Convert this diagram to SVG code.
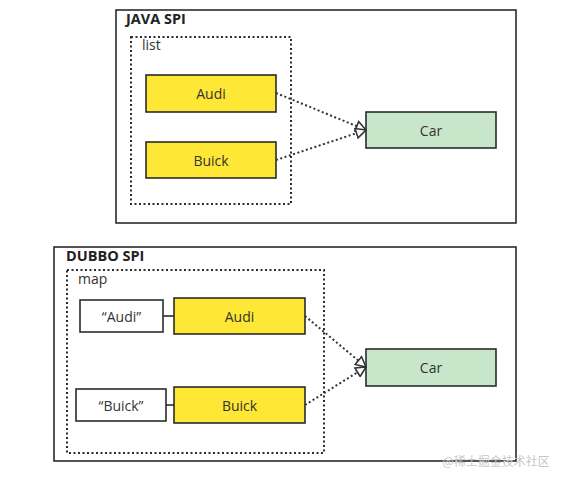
<svg xmlns="http://www.w3.org/2000/svg" width="564" height="482" viewBox="0 0 564 482">
<style>
.frame{fill:#fff;stroke:#2b2b2b;stroke-width:1.6}
.group{fill:none;stroke:#2b2b2b;stroke-width:2;stroke-dasharray:2 2.5}
.impl{fill:#ffe735;stroke:#2b2b2b;stroke-width:1.6}
.key{fill:#fff;stroke:#2b2b2b;stroke-width:1.6}
.iface{fill:#c8e6c9;stroke:#2b2b2b;stroke-width:1.6}
.t{font-family:"Open Sans","Noto Sans","Liberation Sans",sans-serif;font-size:14px;fill:#333;text-anchor:middle;dominant-baseline:central}
.title{font-family:"Open Sans","Noto Sans","Liberation Sans",sans-serif;font-size:14.5px;font-weight:bold;fill:#222}
.lab{font-family:"Open Sans","Noto Sans","Liberation Sans",sans-serif;font-size:14px;fill:#333}
.dep{fill:none;stroke:#333;stroke-width:2;stroke-dasharray:2 2.5;marker-end:url(#tri)}
.link{stroke:#2b2b2b;stroke-width:1.6}
</style>
<defs>
<marker id="tri" viewBox="0 0 12 12" refX="11" refY="6" markerWidth="12" markerHeight="12" markerUnits="userSpaceOnUse" orient="auto">
<path d="M1,1 L11,6 L1,11 Z" fill="#fff" stroke="#333" stroke-width="1.6" stroke-linejoin="miter"/>
</marker>
</defs>
<rect width="564" height="482" fill="#fff"/>

<g id="java-spi">
<rect class="frame" x="116" y="10" width="400" height="213"/>
<text class="title" x="126" y="24">JAVA SPI</text>
</g>
<g id="list">
<rect class="group" x="131" y="37" width="160" height="167"/>
<text class="lab" x="142" y="50">list</text>
</g>
<g id="java-audi">
<rect class="impl" x="146" y="75" width="130" height="37"/>
<text class="t" x="211" y="93.5">Audi</text>
</g>
<g id="java-buick">
<rect class="impl" x="146" y="142" width="130" height="36"/>
<text class="t" x="211" y="160">Buick</text>
</g>
<g id="java-car">
<rect class="iface" x="366" y="112" width="130" height="36"/>
<text class="t" x="431" y="130">Car</text>
</g>

<g id="dubbo-spi">
<rect class="frame" x="54" y="247" width="462" height="214"/>
<text class="title" x="66" y="261">DUBBO SPI</text>
</g>
<g id="map">
<rect class="group" x="67" y="270" width="257" height="183"/>
<text class="lab" x="78" y="284">map</text>
</g>
<g id="key-audi">
<rect class="key" x="80" y="300" width="83" height="32"/>
<text class="t" x="121.5" y="316">“Audi”</text>
</g>
<g id="dubbo-audi">
<rect class="impl" x="174" y="298" width="131" height="36"/>
<text class="t" x="239.5" y="316">Audi</text>
</g>
<g id="key-buick">
<rect class="key" x="76" y="389" width="90" height="32"/>
<text class="t" x="121" y="405">“Buick”</text>
</g>
<g id="dubbo-buick">
<rect class="impl" x="174" y="387" width="131" height="36"/>
<text class="t" x="239.5" y="405">Buick</text>
</g>
<g id="dubbo-car">
<rect class="iface" x="366" y="349" width="130" height="37"/>
<text class="t" x="431" y="367.5">Car</text>
</g>

<g id="connectors">
<path class="dep" d="M276,93 L366,130"/>
<path class="dep" d="M276,160 L366,130"/>
<path class="dep" d="M305,316 L366,367"/>
<path class="dep" d="M305,405 L366,367"/>
<line class="link" x1="163" y1="316" x2="174" y2="316"/>
<line class="link" x1="166" y1="405" x2="174" y2="405"/>
</g>

<text x="496" y="466" font-family="'Noto Sans CJK SC','Noto Sans',sans-serif" font-size="12" fill="#c8c8c8" text-anchor="middle">@稀土掘金技术社区</text>
</svg>
